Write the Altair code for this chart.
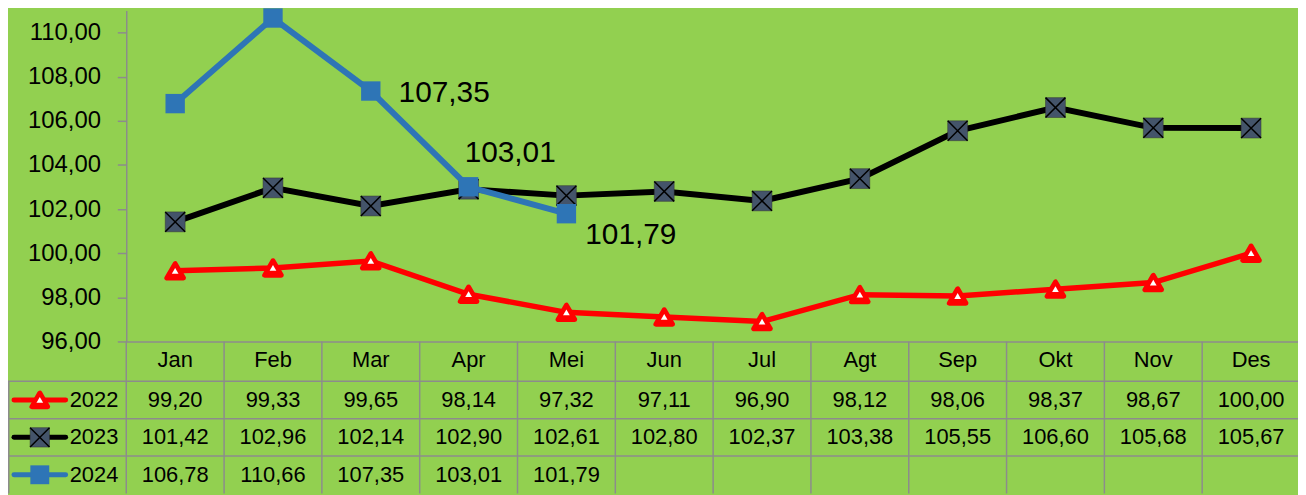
import altair as alt
import pandas as pd

months = ["Jan", "Feb", "Mar", "Apr", "Mei", "Jun", "Jul", "Agt", "Sep", "Okt", "Nov", "Des"]
v2022 = [99.20, 99.33, 99.65, 98.14, 97.32, 97.11, 96.90, 98.12, 98.06, 98.37, 98.67, 100.00]
v2023 = [101.42, 102.96, 102.14, 102.90, 102.61, 102.80, 102.37, 103.38, 105.55, 106.60, 105.68, 105.67]
v2024 = [106.78, 110.66, 107.35, 103.01, 101.79]
years = ["2022", "2023", "2024"]
y_ticks = [96, 98, 100, 102, 104, 106, 108, 110]
series_colors = ["#FF0000", "#000000", "#2E75B6"]

rows = []
for yr, vals in zip(years, [v2022, v2023, v2024]):
    for m, v in zip(months, vals):
        rows.append({"year": yr, "month": m, "value": v,
                     "label": f"{v:.2f}".replace(".", ",")})
df = pd.DataFrame(rows)
df_months = pd.DataFrame({"month": months})
df_years = pd.DataFrame({"year": years})

BG = "#92D050"
GRID = "#8C8C8C"
REG = "Liberation Sans"
SQUARE_FILL = "#44546A"
XPATH = "M-1,-1L1,1M1,-1L-1,1"

xscale = alt.Scale(domain=months, range=[119, 1300], paddingInner=0, paddingOuter=0)
yscale = alt.Scale(domain=[96, 111], range=[334, 1], nice=False, zero=False)
rowscale = alt.Scale(domain=years, range=[374, 487], paddingInner=0, paddingOuter=0)


def X(**kw):
    return alt.X("month:N", scale=xscale, sort=months, title=None, **kw)


def Y(**kw):
    return alt.Y("value:Q", scale=yscale, title=None, **kw)


def R(**kw):
    return alt.Y("year:N", scale=rowscale, sort=years, axis=None, **kw)


base = alt.Chart(df)

d22 = base.transform_filter(alt.datum.year == "2022")
d23 = base.transform_filter(alt.datum.year == "2023")
d24 = base.transform_filter(alt.datum.year == "2024")

line22 = d22.mark_line(color="#FF0000", strokeWidth=5.5).encode(
    x=X(), y=Y(axis=alt.Axis(values=y_ticks)))
tri22 = d22.mark_point(shape="triangle-up", filled=True, color="#FF0000", size=280,
                       stroke="#FF0000", strokeWidth=5, strokeJoin="round",
                       opacity=1).encode(x=X(), y=Y())
tri22w = d22.mark_point(shape="triangle-up", filled=True, color="white", size=45,
                        opacity=1).encode(x=X(), y=Y())

line23 = d23.mark_line(color="#000000", strokeWidth=6).encode(x=X(), y=Y())
sq23 = d23.mark_point(shape="square", filled=True, color=SQUARE_FILL, size=400,
                      stroke="#333333", strokeWidth=0.5, opacity=1).encode(x=X(), y=Y())
x23 = d23.mark_point(shape=XPATH, filled=False, color="#000000", size=400,
                     strokeWidth=1.5, opacity=1).encode(x=X(), y=Y())

line24 = d24.mark_line(color="#2E75B6", strokeWidth=6).encode(x=X(), y=Y())
sq24 = d24.mark_point(shape="square", filled=True, color="#2E75B6", size=380,
                      opacity=1).encode(x=X(), y=Y())


def dlabel(month, dx, dy):
    return d24.transform_filter(alt.datum.month == month).mark_text(
        font=REG, fontSize=30, color="black", align="left", baseline="middle",
        dx=dx, dy=dy).encode(x=X(), y=Y(), text="label:N")


main = alt.layer(line22, tri22, tri22w, line23, sq23, x23, line24, sq24,
                 dlabel("Mar", 28, 2), dlabel("Apr", -4, -34), dlabel("Mei", 19, 21))

# ---- data table ----
cells = base.mark_text(font=REG, fontSize=22, color="black", baseline="middle").encode(
    x=X(), y=R(), text="label:N")
vlines = alt.Chart(df_months).mark_rule(color=GRID, strokeWidth=1.5).encode(
    x=X(bandPosition=0), y=alt.value(334), y2=alt.value(487))
hlines = alt.Chart(df_years).mark_rule(color=GRID, strokeWidth=1.5).encode(
    y=R(bandPosition=0), x=alt.value(0), x2=alt.value(1300))
lborder = alt.Chart(df_years).transform_filter(alt.datum.year == "2022").mark_rule(
    color=GRID, strokeWidth=1.5).encode(
    y=R(bandPosition=0), y2=alt.value(487), x=alt.value(0.75))
leg_lines = alt.Chart(df_years).mark_rule(strokeWidth=5, strokeCap="round").encode(
    y=R(), x=alt.value(6), x2=alt.value(58),
    color=alt.Color("year:N", scale=alt.Scale(domain=years, range=series_colors), legend=None))
ly = alt.Chart(df_years)
leg_tri = ly.transform_filter(alt.datum.year == "2022").mark_point(
    shape="triangle-up", filled=True, color="#FF0000", size=250, stroke="#FF0000",
    strokeWidth=5, strokeJoin="round", opacity=1).encode(y=R(), x=alt.value(32))
leg_triw = ly.transform_filter(alt.datum.year == "2022").mark_point(
    shape="triangle-up", filled=True, color="white", size=45, opacity=1).encode(
    y=R(), x=alt.value(32))
leg_sq23 = ly.transform_filter(alt.datum.year == "2023").mark_point(
    shape="square", filled=True, color=SQUARE_FILL, size=380, stroke="#333333",
    strokeWidth=0.5, opacity=1).encode(y=R(), x=alt.value(32))
leg_x23 = ly.transform_filter(alt.datum.year == "2023").mark_point(
    shape=XPATH, filled=False, color="#000000", size=380, strokeWidth=1.5,
    opacity=1).encode(y=R(), x=alt.value(32))
leg_sq24 = ly.transform_filter(alt.datum.year == "2024").mark_point(
    shape="square", filled=True, color="#2E75B6", size=361, opacity=1).encode(
    y=R(), x=alt.value(32))
leg_text = ly.mark_text(font=REG, fontSize=22, color="black", align="right",
                        baseline="middle").encode(y=R(), x=alt.value(111), text="year:N")

table = alt.layer(vlines, hlines, lborder, cells, leg_lines, leg_tri, leg_triw,
                  leg_sq23, leg_x23, leg_sq24, leg_text)

chart = alt.layer(main, table).resolve_scale(y="independent").properties(
    width=1298, height=487, autosize=alt.AutoSizeParams(type="none"), padding=0
).configure(background=BG).configure_view(stroke=None).configure_axisX(
    orient="bottom", offset=-153, ticks=False, grid=False,
    domainColor=GRID, domainWidth=1.5, labelFont=REG, labelFontSize=22,
    labelColor="black", labelPadding=18, labelBaseline="middle",
    labelAngle=0, labelOverlap=False
).configure_axisY(
    offset=-119, grid=False, tickSize=9,
    tickColor=GRID, tickWidth=1.5, domainColor=GRID, domainWidth=1.5,
    labelExpr="replace(format(datum.value, '.2f'), '.', ',')",
    labelFont=REG, labelFontSize=24, labelPadding=17,
    labelColor="black", labelOverlap=False
)

chart.save("out.html", embed_options={"renderer": "svg", "actions": False})
